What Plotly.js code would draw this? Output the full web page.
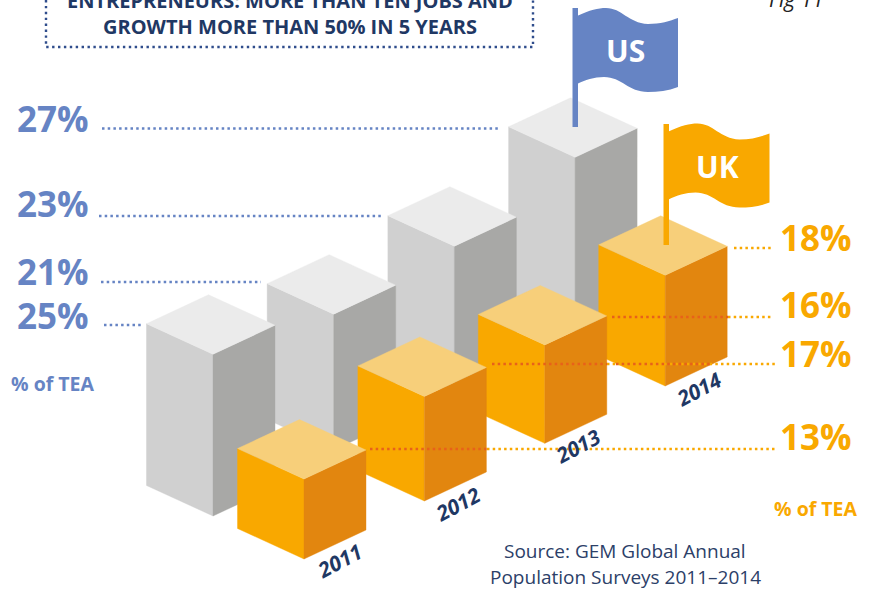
<!DOCTYPE html>
<html><head><meta charset="utf-8">
<script src="https://cdn.plot.ly/plotly-3.0.1.min.js"></script>
<style>html,body{margin:0;padding:0;background:#fff;overflow:hidden}#c{width:873px;height:589px}</style>
</head><body><div id="c"></div>
<script>
// ---- data ----
const years = ['2011','2012','2013','2014'];
const usShare = [25,21,23,27];
const ukShare = [13,17,16,18];
const teaLabel = '% of TEA';
const titleLines = ['ENTREPRENEURS: MORE THAN TEN JOBS AND','GROWTH MORE THAN 50% IN 5 YEARS'];
const sourceLines = ['Source: GEM Global Annual','Population Surveys 2011–2014'];

// ---- projection of the isometric stage ----
const stage = {
  us:{x0:213,dx:120.7,floors:[516,450,395,332],k:6.47,top:'#ebebeb',left:'#d0d0d0',right:'#a8a8a6'},
  uk:{x0:304,dx:120.4,floors:[559,501,443.3,386],k:6.15,top:'#f7cf7a',left:'#f9a800',right:'#e2860f'}
};
const fL=[-66.5,-30.5], fR=[62,-29];
const BLUE='#6684c4', NAVY='#1f3864', ORANGE='#f9a800', DARKDOT='#e8611a';
const FONT='Open Sans';

function poly(pts,color){
  return {type:'scatter',mode:'lines',x:pts.map(p=>p[0]).concat(pts[0][0]),y:pts.map(p=>p[1]).concat(pts[0][1]),
    fill:'toself',fillcolor:color,line:{width:0.4,color:color},hoverinfo:'skip',showlegend:false};
}
function bar(s,i,v){
  const x=s.x0+i*s.dx, yb=s.floors[i], yt=yb-s.k*v;
  return [
    poly([[x,yt],[x+fL[0],yt+fL[1]],[x+fL[0],yb+fL[1]],[x,yb]],s.left),
    poly([[x,yt],[x+fR[0],yt+fR[1]],[x+fR[0],yb+fR[1]],[x,yb]],s.right),
    poly([[x,yt],[x+fL[0],yt+fL[1]],[x+fL[0]+fR[0],yt+fL[1]+fR[1]],[x+fR[0],yt+fR[1]]],s.top)
  ];
}
const traces=[];
[3,2,1,0].forEach(i=>traces.push(...bar(stage.us,i,usShare[i])));
[3,2,1,0].forEach(i=>traces.push(...bar(stage.uk,i,ukShare[i])));

function dotted(x0,x1,y,color){
  return {type:'scatter',mode:'lines',x:[x0,x1],y:[y,y],line:{color:color,width:2.5,dash:'2.5px,3.2px'},hoverinfo:'skip',showlegend:false};
}
// leader lines
traces.push(dotted(102,501,128.5,BLUE),dotted(99,381,216,BLUE),dotted(101,261,282,BLUE),dotted(104,141,325,BLUE));
traces.push(dotted(734,771,248,ORANGE),dotted(728,772,317,ORANGE),dotted(607,775,364,ORANGE),dotted(487,776,449,ORANGE));
traces.push(dotted(612,728,317,DARKDOT),dotted(492,607,364,DARKDOT),dotted(616,712,364,DARKDOT),dotted(370,487,449,DARKDOT));
// title box
function boxLine(xs,ys){return {type:'scatter',mode:'lines',x:xs,y:ys,line:{color:'#2f4d8c',width:2.4,dash:'2.4px,3.5px'},hoverinfo:'skip',showlegend:false};}
traces.push(boxLine([46,46,533,533],[0,47,47,0]));

function flagPath(ox,oy){
  const p=(x,y)=>(x+ox)+','+(y+oy);
  return 'M'+p(577,16)+' C'+p(590,10)+' '+p(598,8)+' '+p(606,8)+' C'+p(622,8)+' '+p(628,23)+' '+p(648,24)+
    ' C'+p(660,24)+' '+p(670,21)+' '+p(678,18)+' L'+p(678,87)+' C'+p(668,91)+' '+p(658,92)+' '+p(648,92)+
    ' C'+p(628,92)+' '+p(622,77)+' '+p(604,77)+' C'+p(594,77)+' '+p(585,80)+' '+p(577,84)+' Z';
}
const shapes=[
  {type:'path',path:flagPath(0,0),fillcolor:BLUE,line:{width:0},layer:'above'},
  {type:'rect',x0:572.5,x1:578,y0:8,y1:127,fillcolor:BLUE,line:{width:0},layer:'above'},
  {type:'path',path:flagPath(91.5,115.5),fillcolor:ORANGE,line:{width:0},layer:'above'},
  {type:'rect',x0:663.5,x1:669,y0:124,y1:245,fillcolor:ORANGE,line:{width:0},layer:'above'}
];

function note(text,x,y,size,color,opts){
  return Object.assign({text:text,x:x,y:y,xref:'x',yref:'y',showarrow:false,xanchor:'center',yanchor:'middle',
    font:Object.assign({family:FONT,size:size,color:color},(opts&&opts.font)||{})},opts&&opts.a||{});
}
const bold={font:{weight:700}};
const annotations=[];
const usY=[315.5,271.5,203.5,118.5];
usShare.forEach((v,i)=>annotations.push(note(v+'%',91,usY[i],35,BLUE,{font:{weight:700},a:{xanchor:'right'}})));
const ukY=[436.5,353.5,304.5,237.5];
ukShare.forEach((v,i)=>annotations.push(note(v+'%',778,ukY[i],35,ORANGE,{font:{weight:700},a:{xanchor:'left'}})));
annotations.push(note(teaLabel,52.5,383,19.5,BLUE,bold));
annotations.push(note(teaLabel,815.5,508,19.5,ORANGE,bold));
annotations.push(note(titleLines[0],290,0,20,NAVY,bold));
annotations.push(note(titleLines[1],290,26.5,20,NAVY,bold));
annotations.push(note(sourceLines[0],625,551,19,'#2c4068'));
annotations.push(note(sourceLines[1],625,577,19,'#2c4068'));
annotations.push(note('US',625,50,30,'#ffffff',bold));
annotations.push(note('UK',717,166,30,'#ffffff',bold));
annotations.push(note('Fig 11',796,0,21,'#222222',{font:{style:'italic'},a:{yshift:1}}));
const yearPos=[[339,561],[458,504],[578,446],[699,389]];
years.forEach((y,i)=>annotations.push(note(y,yearPos[i][0],yearPos[i][1],21,NAVY,{font:{weight:700,style:'italic'},a:{textangle:-28}})));

Plotly.newPlot('c',traces,{
  width:873,height:589,margin:{l:0,r:0,t:0,b:0},paper_bgcolor:'#fff',plot_bgcolor:'#fff',showlegend:false,
  xaxis:{range:[0,873],visible:false,fixedrange:true},
  yaxis:{range:[589,0],visible:false,fixedrange:true},
  shapes:shapes,annotations:annotations
},{displayModeBar:false,staticPlot:true});
</script></body></html>
